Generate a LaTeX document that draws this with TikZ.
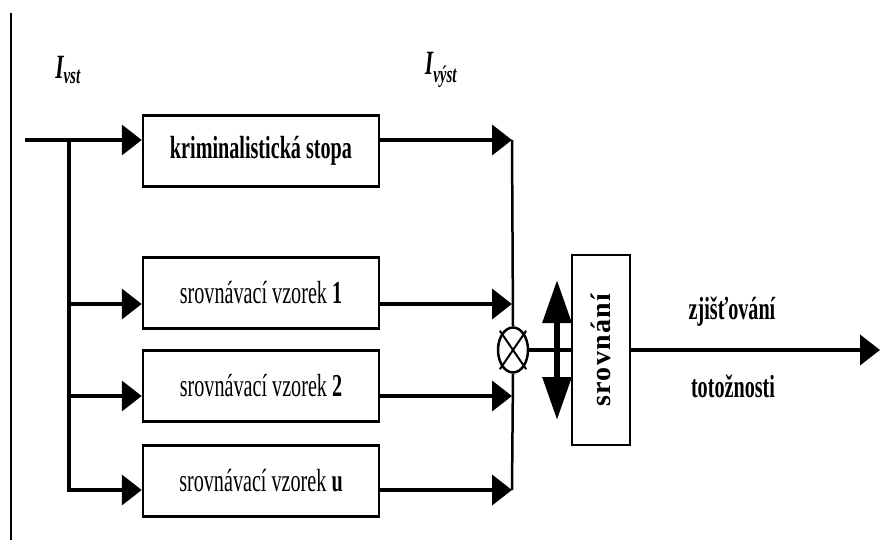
\documentclass[tikz,border=0pt]{standalone}
\usepackage{fontspec}
\setmainfont{Liberation Serif}[FakeStretch=0.63]
\newfontfamily\spacedfont{Liberation Serif}[LetterSpace=5]
\usetikzlibrary{arrows.meta,shapes.geometric}

\begin{document}
\begin{tikzpicture}[x=1pt,y=-1pt,font=\fontsize{32}{36}\selectfont,
	blok/.style={draw,line width=2.5pt,minimum width=236pt,minimum height=71pt,inner sep=0pt},
	sipka/.style={line width=4pt,-{Triangle[length=20pt,width=30pt]}},
	vedeni/.style={line width=2.5pt}]
				\useasboundingbox (0,0) rectangle (883,540);
				% levy okraj
				\coordinate (ramh) at (11,13);
				\coordinate (ramd) at (11,540);
				\draw[line width=1.5pt] (ramh) -- (ramd);
				
				\node (ivst) at (68,70) {\fontsize{34}{36}\selectfont\bfseries\itshape I\textsubscript{vst}};
				\node (ivyst) at (441,70) {\fontsize{34}{36}\selectfont\bfseries\itshape I\textsubscript{výst}};
				
				\node (b1) at (261,151) [blok] {\bfseries kriminalistická stopa};
				\node (b2) at (261,293) [blok] {srovnávací vzorek \textbf{1}};
				\node (b3) at (261,386) [blok] {srovnávací vzorek \textbf{2}};
				\node (b4) at (261,481) [blok] {srovnávací vzorek \textbf{u}};
				
				% vstupy
				\coordinate (vst) at (25,140);
				\coordinate (rozv) at (69,140);
				\coordinate (r2) at (69,304);
				\coordinate (r3) at (69,396);
				\coordinate (r4) at (69,490);
				\draw[sipka] (vst) -- (vst -| b1.west);
				\draw[sipka] (r2) -- (r2 -| b2.west);
				\draw[sipka] (r3) -- (r3 -| b3.west);
				\draw[sipka] (rozv) -- (r4) -- (r4 -| b4.west);
				
				% vystupy
				\coordinate (s1) at (512,140);
				\coordinate (s2) at (512,304);
				\coordinate (s3) at (512,396);
				\coordinate (s4) at (512,490);
				\node (x) at (513,350) [ellipse,draw,line width=2.5pt,fill=white,minimum width=30pt,minimum height=45pt,inner sep=0pt] {};
				\draw[vedeni] (s1) -- (x.north);
				\draw[vedeni] (x.south) -- (s4);
				\draw[line width=2pt,shorten <=-3pt,shorten >=-3pt] (x.north west) -- (x.south east);
				\draw[line width=2pt,shorten <=-3pt,shorten >=-3pt] (x.north east) -- (x.south west);
				\draw[sipka] (b1.east |- s1) -- (s1);
				\draw[sipka] (b2.east |- s2) -- (s2);
				\draw[sipka] (b3.east |- s3) -- (s3);
				\draw[sipka] (b4.east |- s4) -- (s4);
				
				% srovnani
				\node (sr) at (601,350) [draw,line width=2.5pt,minimum width=58pt,minimum height=190pt,inner sep=0pt] {};
				\node (srt) at (sr.center) [rotate=90,font=\fontsize{28}{30}\spacedfont\bfseries] {srovnání};
				\draw[line width=3.5pt] (x.east) -- (sr.west);
				\coordinate (dh) at (557,280);
				\coordinate (dd) at (557,420);
				\draw[line width=6pt,{Triangle[length=43pt,width=28pt]}-{Triangle[length=43pt,width=28pt]}] (dh) -- (dd);
				
				\coordinate (vyst) at (880,350);
				\draw[sipka] (sr.east) -- (vyst);
				\node (zj) at (732,312) {\bfseries zjišťování};
				\node (tot) at (733,386) {\bfseries totožnosti};
			\end{tikzpicture}
\end{document}
